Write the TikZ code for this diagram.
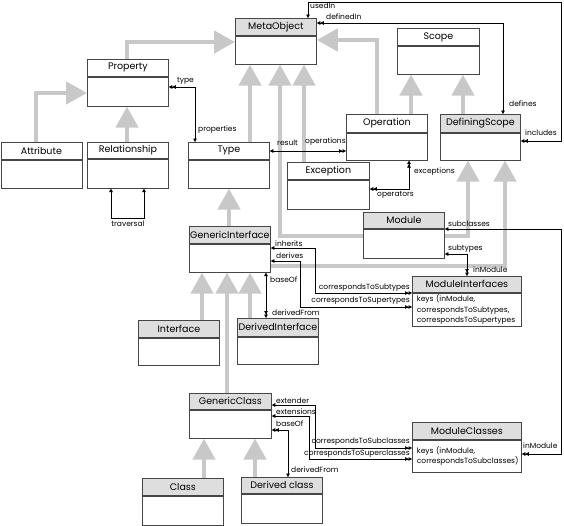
\documentclass[tikz,border=0pt]{standalone}
\usepackage{fontspec}
\setmainfont{Poppins}
\usepackage{tikz}
\usetikzlibrary{arrows.meta,positioning,backgrounds}
\definecolor{boxLine}{RGB}{70,70,70}
\definecolor{headGray}{RGB}{222,222,222}
\definecolor{arrowGray}{RGB}{200,200,200}
\tikzset{
  classhead/.style={
    rectangle, draw=boxLine, line width=0.8pt, fill=white,
    minimum width=81pt, minimum height=17pt, inner sep=0pt,
    anchor=north west, font=\fontsize{9.5}{11}\selectfont
  },
  grayhead/.style={classhead, fill=headGray},
  classbody/.style={
    rectangle, draw=boxLine, line width=0.8pt, fill=white,
    minimum width=81pt, inner sep=0pt, font=\fontsize{7.5}{10.5}\selectfont
  },
  inherit/.style={draw=arrowGray, line width=4.5pt, -{Triangle[length=21pt,width=22pt]}},
  assoc/.style={draw=black, line width=0.6pt, >={Triangle[length=3.5pt,width=3.6pt]}},
  lbl/.style={font=\fontsize{7.5}{9}\selectfont, inner sep=0pt, anchor=west}
}

\begin{document}
\begin{tikzpicture}[x=1pt, y=-1pt]
  \useasboundingbox (0,0) rectangle (564,525);
  % classes
  \node[grayhead] (mo) at (235,18) {MetaObject};
  \node[classbody, minimum height=28pt, below=0pt of mo] (mob) {};
  \node[classhead] (prop) at (87,59) {Property};
  \node[classbody, minimum height=29pt, below=0pt of prop] (propb) {};
  \node[classhead] (attr) at (0.5,142) {Attribute};
  \node[classbody, minimum height=28pt, below=0pt of attr] (attrb) {};
  \node[classhead, minimum height=16pt] (rel) at (87,142) {Relationship};
  \node[classbody, minimum height=29pt, below=0pt of rel] (relb) {};
  \node[classhead] (type) at (188,142) {Type};
  \node[classbody, minimum height=28pt, below=0pt of type] (typeb) {};
  \node[classhead, minimum width=82pt] (scope) at (397,28) {Scope};
  \node[classbody, minimum width=82pt, minimum height=28pt, below=0pt of scope] (scopeb) {};
  \node[classhead, minimum height=18pt] (op) at (346,114) {Operation};
  \node[classbody, minimum height=27pt, below=0pt of op] (opb) {};
  \node[grayhead, minimum width=80pt, minimum height=18pt] (ds) at (440,114) {DefiningScope};
  \node[classbody, minimum width=80pt, minimum height=27pt, below=0pt of ds] (dsb) {};
  \node[classhead, minimum width=82pt] (exc) at (287,162) {Exception};
  \node[classbody, minimum width=82pt, minimum height=29pt, below=0pt of exc] (excb) {};
  \node[grayhead, minimum height=16pt] (mod) at (363,212) {Module};
  \node[classbody, minimum height=29pt, below=0pt of mod] (modb) {};
  \node[grayhead] (gi) at (189,226) {GenericInterface};
  \node[classbody, minimum height=28pt, below=0pt of gi] (gib) {};
  \node[grayhead] (intf) at (138,320) {Interface};
  \node[classbody, minimum height=27pt, below=0pt of intf] (intfb) {};
  \node[grayhead, minimum height=18pt] (di) at (237,318) {DerivedInterface};
  \node[classbody, minimum height=27pt, below=0pt of di] (dib) {};
  \node[grayhead, minimum width=109pt, minimum height=16pt] (mi) at (412,276) {ModuleInterfaces};
  \node[classbody, minimum width=109pt, minimum height=33pt, text width=100pt,
        align=left, below=0pt of mi] (mib)
    {keys (inModule,\\correspondsToSubtypes,\\correspondsToSupertypes};
  \node[grayhead, minimum width=82pt, minimum height=16pt] (gc) at (189,393) {GenericClass};
  \node[classbody, minimum width=82pt, minimum height=28pt, below=0pt of gc] (gcb) {};
  \node[grayhead] (cls) at (142,478) {Class};
  \node[classbody, minimum height=29pt, below=0pt of cls] (clsb) {};
  \node[grayhead, minimum height=16pt] (dc) at (241,477) {Derived class};
  \node[classbody, minimum height=29pt, below=0pt of dc] (dcb) {};
  \node[grayhead, minimum width=109pt] (mc) at (412,422) {ModuleClasses};
  \node[classbody, minimum width=109pt, minimum height=32pt, text width=100pt,
        align=left, below=0pt of mc] (mcb)
    {keys (inModule,\\correspondsToSubclasses)};

  % generalisation arrows behind the boxes
  \begin{scope}[on background layer]
    \fill[white] (0,0) rectangle (564,525);
    \draw[inherit] (prop.north -| 127,0) |- (mob.west |- 0,42);
    \draw[inherit] (attr.north -| 36,0) |- (propb.west |- 0,93);
    \draw[inherit] (rel.north -| 127,0) -- (propb.south -| 127,0);
    \draw[inherit] (type.north -| 250,0) -- (mob.south -| 250,0);
    \draw[inherit] (modb.west |- 0,236) -| (mob.south -| 280,0);
    \draw[inherit] (exc.north -| 304,0) -- (mob.south -| 304,0);
    \draw[inherit] (op.north -| 377,0) |- (mob.east |- 0,40);
    \draw[inherit] (op.north -| 411,0) -- (scopeb.south -| 411,0);
    \draw[inherit] (ds.north -| 463,0) -- (scopeb.south -| 463,0);
    \draw[inherit] (modb.east |- 0,236) -| (dsb.south -| 468,0);
    \draw[inherit] (gib.east |- 0,266) -| (dsb.south -| 505,0);
    \draw[inherit] (gi.north -| 229,0) -- (typeb.south -| 229,0);
    \draw[inherit] (intf.north -| 202,0) -- (gib.south -| 202,0);
    \draw[inherit] (gc.north -| 227,0) -- (gib.south -| 227,0);
    \draw[inherit] (di.north -| 250,0) -- (gib.south -| 250,0);
    \draw[inherit] (cls.north -| 204,0) -- (gcb.south -| 204,0);
    \draw[inherit] (dc.north -| 255,0) -- (gcb.south -| 255,0);
  \end{scope}

  % relationships
  \draw[assoc, <<->] (propb.east |- 0,87) -| (type.north -| 195,0);
  \draw[assoc, <->] (relb.south -| 111,0) |- (144,218) -- (relb.south -| 144,0);
  \draw[assoc, <<->] (dsb.east |- 0,141) -| (561,2) -| (mo.north -| 308,0);
  \draw[assoc, <<->] (mo.east |- 0,23) -| (ds.north -| 503,0);
  \draw[assoc, <->>] (type.east |- 0,151) -- (opb.west |- 0,151);
  \draw[assoc, <<->>] (excb.east |- 0,189) -| (opb.south -| 409,0);
  \draw[assoc, <->>] (modb.east |- 0,229) -| (561,454) -- (mcb.east |- 0,454);
  \draw[assoc, <->>] (modb.east |- 0,254) -| (mi.north -| 467,0);
  \draw[assoc, <->>] (gib.east |- 0,248) -| (315,293) -- (mib.west |- 0,293);
  \draw[assoc, <->>] (gib.east |- 0,261) -| (300,307) -- (mib.west |- 0,307);
  \draw[assoc, <->>] (gib.south -| 266,0) -- (di.north -| 266,0);
  \draw[assoc, <<->] (gcb.east |- 0,430) -| (dc.north -| 288,0);
  \draw[assoc, <->>] (gc.east |- 0,405) -| (315,448) -- (mcb.west |- 0,448);
  \draw[assoc, <->>] (gcb.east |- 0,416) -| (309,459) -- (mcb.west |- 0,459);

  % role names
  \node[lbl] (l1) at (177,81) {type};
  \node[lbl] (l2) at (198,130) {properties};
  \node[lbl, anchor=center] (l3) at (128,224) {traversal};
  \node[lbl] (l4) at (310,6) {usedIn};
  \node[lbl] (l5) at (326,17) {definedIn};
  \node[lbl] (l6) at (509,104) {defines};
  \node[lbl] (l7) at (525,133) {includes};
  \node[lbl] (l8) at (277,143) {result};
  \node[lbl] (l9) at (305,142) {operations};
  \node[lbl] (l10) at (414,172) {exceptions};
  \node[lbl] (l11) at (377,195) {operators};
  \node[lbl] (l12) at (448,224) {subclasses};
  \node[lbl] (l13) at (448,249) {subtypes};
  \node[lbl] (l14) at (473,270) {inModule};
  \node[lbl] (l15) at (275,244) {inherits};
  \node[lbl] (l16) at (276,256) {derives};
  \node[lbl, anchor=east] (l17) at (410,288) {correspondsToSubtypes};
  \node[lbl, anchor=east] (l18) at (410,301) {correspondsToSupertypes};
  \node[lbl] (l19) at (270,280) {baseOf};
  \node[lbl] (l20) at (272,313) {derivedFrom};
  \node[lbl] (l21) at (276,401) {extender};
  \node[lbl] (l22) at (276,412) {extensions};
  \node[lbl] (l23) at (276,424) {baseOf};
  \node[lbl] (l24) at (291,470) {derivedFrom};
  \node[lbl, anchor=east] (l25) at (410,442) {correspondsToSubclasses};
  \node[lbl, anchor=east] (l26) at (410,454) {correspondsToSuperclasses};
  \node[lbl] (l27) at (523,446) {inModule};
\end{tikzpicture}
\end{document}
